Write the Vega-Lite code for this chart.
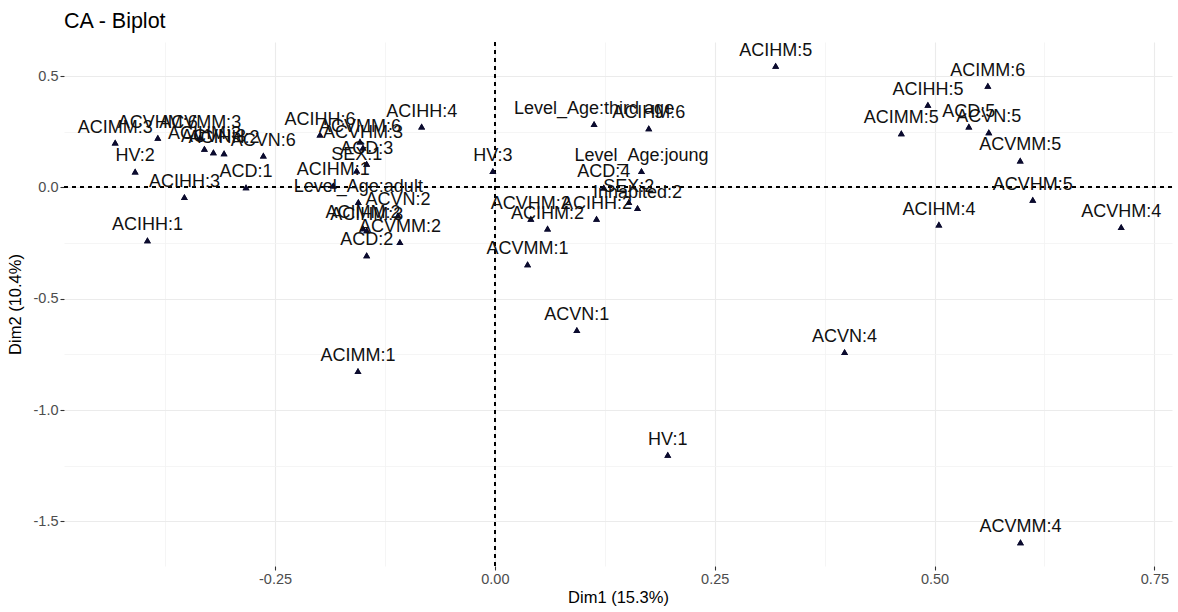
{
  "$schema": "https://vega.github.io/schema/vega-lite/v6.json",
  "autosize": {"type": "none"},
  "padding": {"left": 64, "top": 42, "right": 6, "bottom": 46},
  "width": 1108,
  "height": 524,
  "background": "white",
  "title": {"text": "CA - Biplot", "anchor": "start", "frame": "group", "fontSize": 21.5, "font": "Liberation Sans", "fontWeight": "normal", "color": "#000000", "offset": 9},
  "config": {
    "view": {"stroke": null},
    "font": "Liberation Sans",
    "axis": {"domain": false, "labelFont": "Liberation Sans", "titleFont": "Liberation Sans", "labelFontSize": 14.5, "labelColor": "#4d4d4d", "titleFontSize": 16.5, "titleFontWeight": "normal", "titleColor": "#000000", "tickColor": "#333333", "tickSize": 4, "tickWidth": 1.1, "labelPadding": 2}
  },
  "data": {"values": [
    {"label": "ACIMM:3", "Dim1": -0.4318, "Dim2": 0.2015},
    {"label": "ACVHM:6", "Dim1": -0.3833, "Dim2": 0.2226},
    {"label": "ACVMM:3", "Dim1": -0.3352, "Dim2": 0.2239},
    {"label": "ACIHM:3", "Dim1": -0.3303, "Dim2": 0.1733},
    {"label": "ACVN:3", "Dim1": -0.3201, "Dim2": 0.1581},
    {"label": "ACIHH:2", "Dim1": -0.3080, "Dim2": 0.1536},
    {"label": "ACVN:6", "Dim1": -0.2633, "Dim2": 0.1433},
    {"label": "HV:2", "Dim1": -0.4091, "Dim2": 0.0717},
    {"label": "ACIHH:3", "Dim1": -0.3531, "Dim2": -0.0434},
    {"label": "ACD:1", "Dim1": -0.2830, "Dim2": 0.0013},
    {"label": "ACIHH:1", "Dim1": -0.3951, "Dim2": -0.2373},
    {"label": "ACIHH:6", "Dim1": -0.1989, "Dim2": 0.2373},
    {"label": "ACIHH:4", "Dim1": -0.0833, "Dim2": 0.2732},
    {"label": "ACVMM:6", "Dim1": -0.1534, "Dim2": 0.2060},
    {"label": "ACVHM:3", "Dim1": -0.1500, "Dim2": 0.1791},
    {"label": "ACD:3", "Dim1": -0.1458, "Dim2": 0.1061},
    {"label": "SEX:1", "Dim1": -0.1572, "Dim2": 0.0761},
    {"label": "ACIHM:1", "Dim1": -0.1838, "Dim2": 0.0090},
    {"label": "Level_Age:adult", "Dim1": -0.1553, "Dim2": -0.0658},
    {"label": "ACVN:2", "Dim1": -0.1102, "Dim2": -0.1254},
    {"label": "ACIHM:3", "Dim1": -0.1458, "Dim2": -0.1926},
    {"label": "ACIMM:2", "Dim1": -0.1500, "Dim2": -0.1836},
    {"label": "ACVMM:2", "Dim1": -0.1080, "Dim2": -0.2450},
    {"label": "ACD:2", "Dim1": -0.1458, "Dim2": -0.3045},
    {"label": "ACIMM:1", "Dim1": -0.1557, "Dim2": -0.8240},
    {"label": "HV:3", "Dim1": -0.0023, "Dim2": 0.0739},
    {"label": "Level_Age:third age", "Dim1": 0.1128, "Dim2": 0.2853},
    {"label": "ACIHM:6", "Dim1": 0.1750, "Dim2": 0.2656},
    {"label": "Level_Age:joung", "Dim1": 0.1667, "Dim2": 0.0739},
    {"label": "ACD:4", "Dim1": 0.1239, "Dim2": 0.0},
    {"label": "SEX:2", "Dim1": 0.1523, "Dim2": -0.0658},
    {"label": "Inhabited:2", "Dim1": 0.1622, "Dim2": -0.0927},
    {"label": "ACVHM:2", "Dim1": 0.0409, "Dim2": -0.1402},
    {"label": "ACIHH:2", "Dim1": 0.1156, "Dim2": -0.1402},
    {"label": "ACIHM:2", "Dim1": 0.0599, "Dim2": -0.1850},
    {"label": "ACVMM:1", "Dim1": 0.0372, "Dim2": -0.3448},
    {"label": "ACVN:1", "Dim1": 0.0932, "Dim2": -0.6404},
    {"label": "HV:1", "Dim1": 0.1966, "Dim2": -1.2002},
    {"label": "ACIHM:5", "Dim1": 0.3193, "Dim2": 0.5464},
    {"label": "ACIMM:5", "Dim1": 0.4622, "Dim2": 0.2432},
    {"label": "ACIMM:6", "Dim1": 0.5606, "Dim2": 0.4568},
    {"label": "ACIHH:5", "Dim1": 0.4924, "Dim2": 0.3717},
    {"label": "ACD:5", "Dim1": 0.5390, "Dim2": 0.2732},
    {"label": "ACVN:5", "Dim1": 0.5617, "Dim2": 0.2476},
    {"label": "ACVMM:5", "Dim1": 0.5974, "Dim2": 0.1209},
    {"label": "ACVHM:5", "Dim1": 0.6117, "Dim2": -0.0551},
    {"label": "ACIHM:4", "Dim1": 0.5049, "Dim2": -0.1670},
    {"label": "ACVHM:4", "Dim1": 0.7122, "Dim2": -0.1778},
    {"label": "ACVN:4", "Dim1": 0.3977, "Dim2": -0.7389},
    {"label": "ACVMM:4", "Dim1": 0.5977, "Dim2": -1.5929}
  ]},
  "layer": [
    {
      "mark": {"type": "point", "shape": "triangle-up", "filled": true, "size": 48, "color": "#0b0b2e", "opacity": 1},
      "encoding": {
        "x": {"field": "Dim1", "type": "quantitative",
          "scale": {"domain": [-0.49, 0.77], "nice": false, "zero": false},
          "axis": {"title": "Dim1 (15.3%)", "titlePadding": 4,
            "values": [-0.375, -0.25, -0.125, 0, 0.125, 0.25, 0.375, 0.5, 0.625, 0.75],
            "labelExpr": "abs(datum.value*4 - round(datum.value*4)) > 0.01 ? '' : replace(format(datum.value, '.2f'), '\u2212', '-')",
            "grid": true,
            "gridColor": {"condition": {"test": "abs(datum.value*4 - round(datum.value*4)) > 0.01", "value": "#f2f2f2"}, "value": "#ebebeb"},
            "gridWidth": {"condition": {"test": "abs(datum.value*4 - round(datum.value*4)) > 0.01", "value": 0.8}, "value": 1.1},
            "tickOpacity": {"condition": {"test": "abs(datum.value*4 - round(datum.value*4)) > 0.01", "value": 0}, "value": 1}
          }},
        "y": {"field": "Dim2", "type": "quantitative",
          "scale": {"domain": [-1.70, 0.653], "nice": false, "zero": false},
          "axis": {"title": "Dim2 (10.4%)", "titlePadding": 10,
            "values": [-1.5, -1.25, -1, -0.75, -0.5, -0.25, 0, 0.25, 0.5],
            "labelExpr": "abs(datum.value*2 - round(datum.value*2)) > 0.01 ? '' : replace(format(datum.value, '.1f'), '\u2212', '-')",
            "grid": true,
            "gridColor": {"condition": {"test": "abs(datum.value*2 - round(datum.value*2)) > 0.01", "value": "#f2f2f2"}, "value": "#ebebeb"},
            "gridWidth": {"condition": {"test": "abs(datum.value*2 - round(datum.value*2)) > 0.01", "value": 0.8}, "value": 1.1},
            "tickOpacity": {"condition": {"test": "abs(datum.value*2 - round(datum.value*2)) > 0.01", "value": 0}, "value": 1}
          }}
      }
    },
    {
      "mark": {"type": "rule", "strokeDash": [4, 4], "color": "#000000", "strokeWidth": 0.8},
      "encoding": {"x": {"datum": 0, "type": "quantitative", "scale": {"domain": [-0.49, 0.77], "nice": false, "zero": false}}}
    },
    {
      "mark": {"type": "rule", "strokeDash": [4, 4], "color": "#000000", "strokeWidth": 0.8},
      "encoding": {"y": {"datum": 0, "type": "quantitative", "scale": {"domain": [-1.70, 0.653], "nice": false, "zero": false}}}
    },
    {
      "mark": {"type": "point", "shape": "triangle-up", "filled": true, "size": 48, "color": "#0b0b2e", "opacity": 1},
      "encoding": {
        "x": {"field": "Dim1", "type": "quantitative", "scale": {"domain": [-0.49, 0.77], "nice": false, "zero": false}},
        "y": {"field": "Dim2", "type": "quantitative", "scale": {"domain": [-1.70, 0.653], "nice": false, "zero": false}}
      }
    },
    {
      "mark": {"type": "text", "fontSize": 18, "font": "Liberation Sans", "color": "#111111", "baseline": "middle", "align": "center", "dy": -15},
      "encoding": {
        "x": {"field": "Dim1", "type": "quantitative", "scale": {"domain": [-0.49, 0.77], "nice": false, "zero": false}},
        "y": {"field": "Dim2", "type": "quantitative", "scale": {"domain": [-1.70, 0.653], "nice": false, "zero": false}},
        "text": {"field": "label"}
      }
    }
  ]
}
